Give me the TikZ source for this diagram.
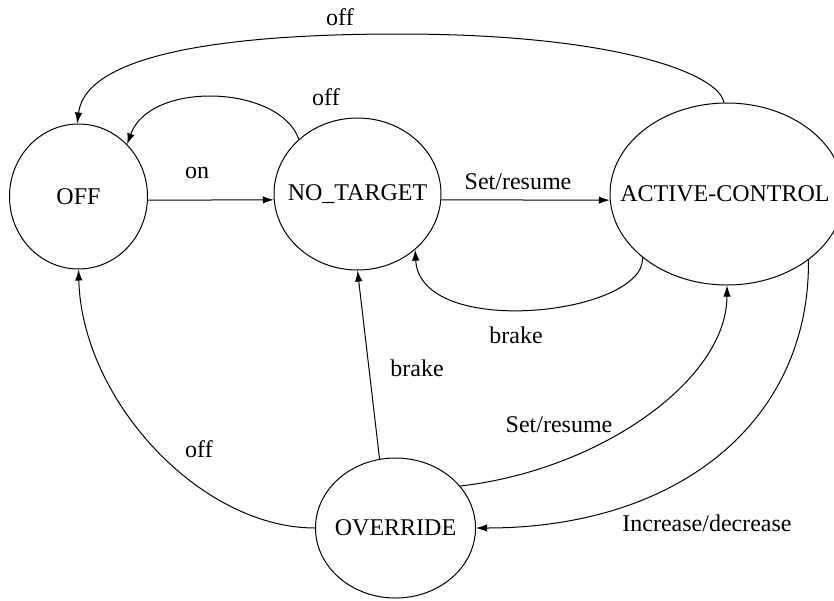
\documentclass[tikz,border=0pt]{standalone}
\usepackage{fontspec}
\setmainfont{Liberation Serif}
\usetikzlibrary{shapes.geometric,arrows.meta}
\tikzset{
  state/.style={draw, ellipse, line width=1pt, inner sep=0pt, font=\fontsize{24}{28}\selectfont},
  tr/.style={draw, line width=1pt, -{Latex[length=11pt,width=7.5pt]}},
  lbl/.style={font=\fontsize{24}{28}\selectfont, inner sep=0pt}
}
\begin{document}
\begin{tikzpicture}[x=1pt,y=-1pt]
\useasboundingbox (0,0) rectangle (834,600);
% states
\node[state, minimum width=138pt, minimum height=145pt] (off) at (78.5,196.5) {\raisebox{-3pt}{\makebox[0pt]{OFF}}};
\node[state, minimum width=167pt, minimum height=152pt] (nt) at (357.5,194) {\raisebox{-5pt}{\makebox[0pt]{NO\_TARGET}}};
\node[state, minimum width=234pt, minimum height=182pt] (ac) at (727,194) {\raisebox{-5pt}{\makebox[0pt]{\hspace*{-4pt}ACTIVE-CONTROL}}};
\node[state, minimum width=160pt, minimum height=140pt] (ov) at (395.5,528) {\raisebox{-2pt}{\makebox[0pt]{OVERRIDE}}};
% transitions
\draw[tr] (off.-3) -- (nt.184);
\draw[tr] (nt.-4) -- (ac.183);
\draw[tr] (nt.137.8) .. controls (280,85) and (150,80) .. (off.47.2);
\draw[tr] (ac.92.5) .. controls (720,75) and (620,34) .. (399,34)
          .. controls (200,34) and (85,60) .. (off.91);
\draw[tr] (ac.217.3) .. controls (645,315) and (420,340) .. (nt.316.2);
\draw[tr] (ov.103) -- (nt.south);
\draw[tr] (ov.west) .. controls (200,528) and (82,400) .. (off.south);
\draw[tr] (ov.33) .. controls (600,470) and (727,380) .. (ac.south);
\draw[tr] (ac.321.3) .. controls (810,420) and (680,528) .. (ov.east);
% labels
\node[lbl] (l1) at (197,173) {on};
\node[lbl] (l2) at (518,182) {Set/resume};
\node[lbl] (l3) at (340,17) {off};
\node[lbl] (l4) at (326,97) {off};
\node[lbl] (l5) at (516,335) {brake};
\node[lbl] (l6) at (417,368) {brake};
\node[lbl] (l7) at (559,425) {Set/resume};
\node[lbl] (l8) at (199,449) {off};
\node[lbl] (l9) at (707,523) {Increase/decrease};
\end{tikzpicture}
\end{document}
